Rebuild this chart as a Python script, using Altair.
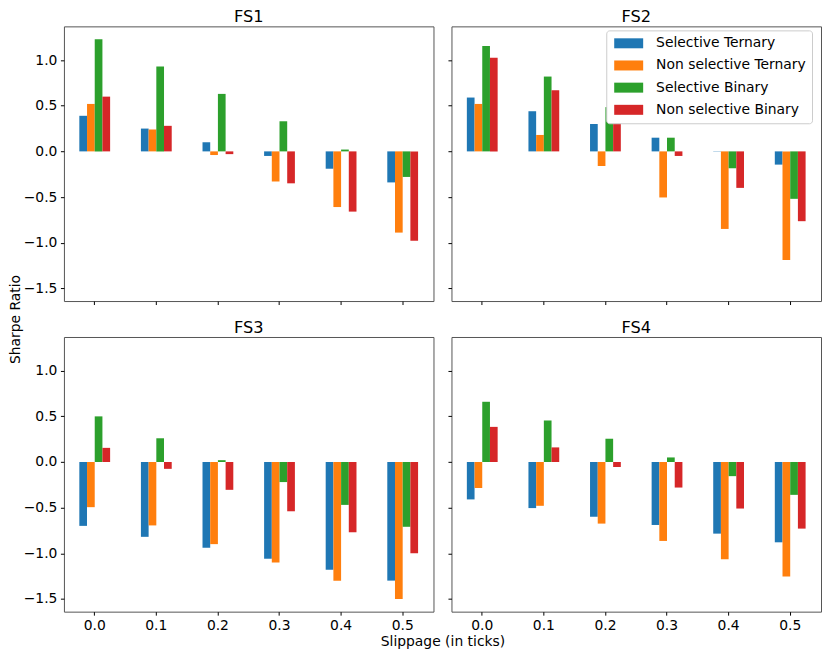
import altair as alt
import pandas as pd

slippage = ["0.0", "0.1", "0.2", "0.3", "0.4", "0.5"]
series_names = ["Selective Ternary", "Non selective Ternary", "Selective Binary", "Non selective Binary"]
colors = ["#1f77b4", "#ff7f0e", "#2ca02c", "#d62728"]
panel_names = ["FS1", "FS2", "FS3", "FS4"]
y_ticks = [-1.5, -1.0, -0.5, 0.0, 0.5, 1.0]

fs1_sel_ternary = [0.39, 0.25, 0.10, -0.05, -0.19, -0.34]
fs1_non_ternary = [0.52, 0.24, -0.04, -0.33, -0.61, -0.89]
fs1_sel_binary = [1.23, 0.93, 0.63, 0.33, 0.02, -0.28]
fs1_non_binary = [0.60, 0.28, -0.03, -0.35, -0.66, -0.98]

fs2_sel_ternary = [0.59, 0.44, 0.30, 0.15, 0.003, -0.145]
fs2_non_ternary = [0.52, 0.18, -0.16, -0.505, -0.85, -1.19]
fs2_sel_binary = [1.155, 0.82, 0.485, 0.15, -0.185, -0.52]
fs2_non_binary = [1.025, 0.67, 0.31, -0.05, -0.40, -0.765]

fs3_sel_ternary = [-0.70, -0.82, -0.94, -1.06, -1.18, -1.30]
fs3_non_ternary = [-0.495, -0.695, -0.90, -1.10, -1.30, -1.50]
fs3_sel_binary = [0.50, 0.26, 0.02, -0.22, -0.47, -0.71]
fs3_non_binary = [0.155, -0.075, -0.305, -0.54, -0.77, -1.00]

fs4_sel_ternary = [-0.41, -0.505, -0.60, -0.69, -0.785, -0.88]
fs4_non_ternary = [-0.285, -0.48, -0.675, -0.865, -1.065, -1.255]
fs4_sel_binary = [0.66, 0.455, 0.255, 0.05, -0.155, -0.36]
fs4_non_binary = [0.385, 0.16, -0.055, -0.28, -0.51, -0.73]

panels_data = {
    "FS1": [fs1_sel_ternary, fs1_non_ternary, fs1_sel_binary, fs1_non_binary],
    "FS2": [fs2_sel_ternary, fs2_non_ternary, fs2_sel_binary, fs2_non_binary],
    "FS3": [fs3_sel_ternary, fs3_non_ternary, fs3_sel_binary, fs3_non_binary],
    "FS4": [fs4_sel_ternary, fs4_non_ternary, fs4_sel_binary, fs4_non_binary],
}

W = 370
H = 275
COL_GAP = 18
ROW_GAP = 36
FS = 13.9
FONT = "DejaVu Sans"


def make_df(name):
    rows = []
    for s, vals in zip(series_names, panels_data[name]):
        for x, v in zip(slippage, vals):
            rows.append({"slip": x, "series": s, "value": v})
    return pd.DataFrame(rows)


def panel(name, x_labels, y_labels, legend, x_title, y_title):
    xaxis_kw = dict(labels=x_labels, labelAngle=0, tickSize=3.5, tickColor="black",
                    labelPadding=3.5, labelFontSize=FS, labelColor="black",
                    domain=False, grid=False)
    if x_title:
        xaxis_kw.update(title="Slippage (in ticks)", titleX=W + COL_GAP / 2,
                        titleFontSize=FS, titleFontWeight="normal", titlePadding=2,
                        titleColor="black")
    else:
        xaxis_kw.update(title=None)
    yaxis_kw = dict(labels=y_labels, values=y_ticks, format=".1f", tickSize=3.5,
                    tickColor="black", labelPadding=3.5, labelFontSize=FS,
                    labelColor="black", domain=False, grid=False)
    if y_title:
        yaxis_kw.update(title="Sharpe Ratio", titleX=-41, titleY=H + ROW_GAP / 2,
                        titleFontSize=FS, titleFontWeight="normal", titleColor="black")
    else:
        yaxis_kw.update(title=None)

    if legend:
        leg = alt.Legend(orient="none", legendX=W - 8 - 207, legendY=4, title=None,
                         fillColor="white", strokeColor="#cccccc", cornerRadius=3,
                         padding=6, labelFontSize=FS, labelColor="black",
                         symbolType="M-1,-1L4.8,-1L4.8,1L-1,1Z", symbolSize=100,
                         symbolStrokeWidth=0, labelOffset=30, rowPadding=7.2)
    else:
        leg = None

    return alt.Chart(make_df(name)).mark_bar().encode(
        x=alt.X("slip:N", sort=slippage,
                scale=alt.Scale(domain=slippage, paddingInner=0.5, paddingOuter=0.25),
                axis=alt.Axis(**xaxis_kw)),
        xOffset=alt.XOffset("series:N", sort=series_names,
                            scale=alt.Scale(domain=series_names, paddingInner=0, paddingOuter=0)),
        y=alt.Y("value:Q", scale=alt.Scale(domain=[-1.64, 1.37], nice=False, zero=False),
                axis=alt.Axis(**yaxis_kw)),
        color=alt.Color("series:N", sort=series_names,
                        scale=alt.Scale(domain=series_names, range=colors),
                        legend=leg),
    ).properties(
        width=W, height=H,
        title=alt.TitleParams(name, fontSize=16.2, fontWeight="normal", offset=1,
                              color="black", anchor="middle"),
    )


p1 = panel("FS1", False, True, False, False, True)
p2 = panel("FS2", False, False, True, False, False)
p3 = panel("FS3", True, True, False, True, False)
p4 = panel("FS4", True, False, False, False, False)

chart = alt.concat(p1, p2, p3, p4, columns=2, spacing={"row": ROW_GAP, "column": COL_GAP}).properties(
    bounds="flush", padding=0
).resolve_scale(color="independent").configure(font=FONT).configure_view(
    stroke="#555555", strokeWidth=1
)

chart.save("out.html", embed_options={"renderer": "svg", "actions": False})
